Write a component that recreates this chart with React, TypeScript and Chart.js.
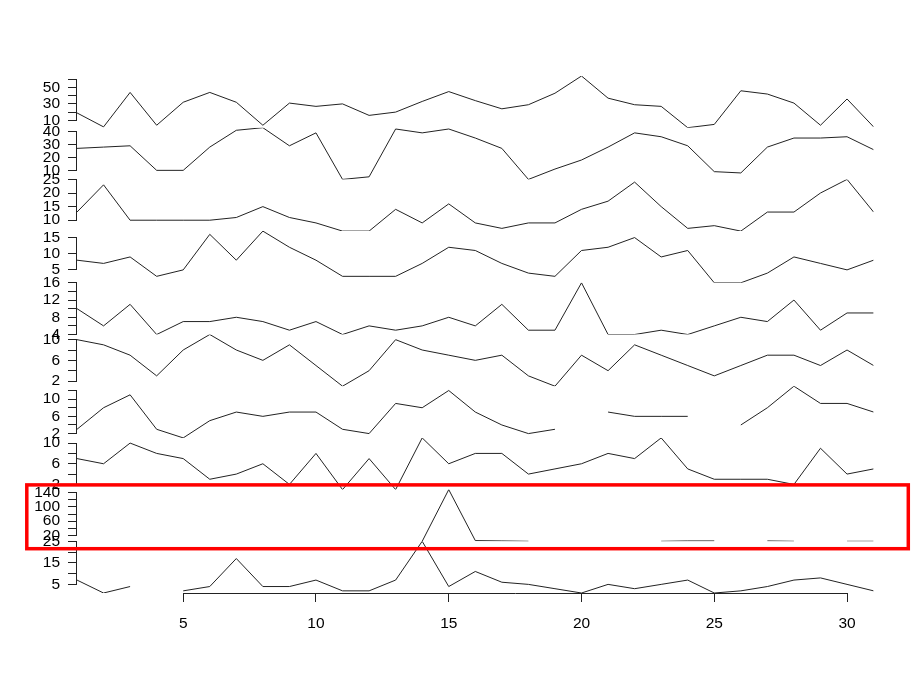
import React, { useEffect, useRef } from "react";
import { Chart, registerables } from "chart.js";

Chart.register(...registerables);

const days = [1, 2, 3, 4, 5, 6, 7, 8, 9, 10, 11, 12, 13, 14, 15, 16, 17, 18, 19, 20, 21, 22, 23, 24, 25, 26, 27, 28, 29, 30, 31];

const s1 = [19, 2, 44, 4, 32, 44, 32, 4, 31, 27, 30, 16, 20, 33, 45, 34, 24, 29, 43, 64, 37, 29, 27, 1, 5, 46, 42, 31, 4, 36, 2];
const s2 = [27, 28, 29, 10, 10, 28, 41, 43, 29, 39, 3, 5, 42, 39, 42, 35, 27, 3, 11, 18, 28, 39, 36, 29, 9, 8, 28, 35, 35, 36, 26];
const s3 = [13, 23, 10, 10, 10, 10, 11, 15, 11, 9, 6, 6, 14, 9, 16, 9, 7, 9, 9, 14, 17, 24, 15, 7, 8, 6, 13, 13, 20, 25, 13];
const s4 = [8, 7, 9, 3, 5, 16, 8, 17, 12, 8, 3, 3, 3, 7, 12, 11, 7, 4, 3, 11, 12, 15, 9, 11, 1, 1, 4, 9, 7, 5, 8];
const s5 = [10, 6, 11, 4, 7, 7, 8, 7, 5, 7, 4, 6, 5, 6, 8, 6, 11, 5, 5, 16, 4, 4, 5, 4, 6, 8, 7, 12, 5, 9, 9];
const s6 = [10, 9, 7, 3, 8, 11, 8, 6, 9, 5, 1, 4, 10, 8, 7, 6, 7, 3, 1, 7, 4, 9, 7, 5, 3, 5, 7, 7, 5, 8, 5];
const s7 = [3, 8, 11, 3, 1, 5, 7, 6, 7, 7, 3, 2, 9, 8, 12, 7, 4, 2, 3, null, 7, 6, 6, 6, null, 4, 8, 13, 9, 9, 7];
const s8 = [7, 6, 10, 8, 7, 3, 4, 6, 2, 8, 1, 7, 1, 11, 6, 8, 8, 4, 5, 6, 8, 7, 11, 5, 3, 3, 3, 2, 9, 4, 5];
const s9 = [null, null, null, null, null, null, null, null, null, null, null, null, null, 3, 149, 5, 4, 3, null, null, null, null, 3, 4, 4, null, 4, 3, null, 3, 3];
const s10 = [7, 1, 4, null, 2, 4, 17, 4, 4, 7, 2, 2, 7, 25, 4, 11, 6, 5, 3, 1, 5, 3, 5, 7, 1, 2, 4, 7, 8, 5, 2];

const ticks1 = [10, 20, 30, 40, 50, 60];
const labels1 = [10, 30, 50];
const ticks2 = [10, 20, 30, 40];
const labels2 = [10, 20, 30, 40];
const ticks3 = [10, 15, 20, 25];
const labels3 = [10, 15, 20, 25];
const ticks4 = [5, 10, 15];
const labels4 = [5, 10, 15];
const ticks5 = [4, 6, 8, 10, 12, 14, 16];
const labels5 = [4, 8, 12, 16];
const ticks6 = [2, 4, 6, 8, 10];
const labels6 = [2, 6, 10];
const ticks7 = [2, 4, 6, 8, 10, 12];
const labels7 = [2, 6, 10];
const ticks8 = [2, 4, 6, 8, 10];
const labels8 = [2, 6, 10];
const ticks9 = [20, 40, 60, 80, 100, 120, 140];
const labels9 = [20, 60, 100, 140];
const ticks10 = [5, 10, 15, 20, 25];
const labels10 = [5, 15, 25];

const xTicks = [5, 10, 15, 20, 25, 30];

const panels = [
  { values: s1, ticks: ticks1, labels: labels1 },
  { values: s2, ticks: ticks2, labels: labels2 },
  { values: s3, ticks: ticks3, labels: labels3 },
  { values: s4, ticks: ticks4, labels: labels4 },
  { values: s5, ticks: ticks5, labels: labels5 },
  { values: s6, ticks: ticks6, labels: labels6 },
  { values: s7, ticks: ticks7, labels: labels7 },
  { values: s8, ticks: ticks8, labels: labels8 },
  { values: s9, ticks: ticks9, labels: labels9 },
  { values: s10, ticks: ticks10, labels: labels10 },
];

const FONT = { family: "'Liberation Sans', Arial, Helvetica, sans-serif", size: 15.5 };
const LINE = "#222";

const axisLines = {
  id: "axisLines",
  afterDraw(chart: any) {
    const ctx = chart.ctx;
    ctx.save();
    ctx.strokeStyle = LINE;
    ctx.lineWidth = 1;
    panels.forEach((p, k) => {
      const sc = chart.scales["y" + k];
      const x = Math.round(sc.right) - 0.5;
      const yA = sc.getPixelForValue(p.ticks[0]);
      const yB = sc.getPixelForValue(p.ticks[p.ticks.length - 1]);
      ctx.beginPath();
      ctx.moveTo(x, Math.floor(yA) + 0.5);
      ctx.lineTo(x, Math.floor(yB) + 0.5);
      ctx.stroke();
    });
    const xs = chart.scales.x;
    const y = Math.round(xs.top) + 0.5;
    ctx.beginPath();
    ctx.moveTo(Math.floor(xs.getPixelForValue(xTicks[0])) + 0.5, y);
    ctx.lineTo(Math.floor(xs.getPixelForValue(xTicks[xTicks.length - 1])) + 0.5, y);
    ctx.stroke();
    // red highlight frame
    ctx.strokeStyle = "#ff0000";
    ctx.lineWidth = 3.5;
    ctx.strokeRect(26.8, 484.9, 881.5, 63.8);
    ctx.restore();
  },
};

export default function App() {
  const ref = useRef<HTMLCanvasElement | null>(null);

  useEffect(() => {
    if (!ref.current) return;
    const datasets = panels.map((p, k) => ({
      data: days.map((d, i) => ({ x: d, y: p.values[i] })),
      yAxisID: "y" + k,
      xAxisID: "x",
      borderColor: LINE,
      borderWidth: 1,
      pointRadius: 0,
      tension: 0,
      spanGaps: false,
      fill: false,
    }));
    const scales: any = {
      x: {
        type: "linear",
        position: "bottom",
        min: days[0],
        max: days[days.length - 1],
        afterBuildTicks: (s: any) => {
          s.ticks = xTicks.map((v) => ({ value: v }));
        },
        afterFit: (s: any) => {
          s.height = 97;
        },
        grid: { drawOnChartArea: false, drawTicks: true, tickLength: 9, color: LINE, tickColor: LINE },
        border: { display: false },
        ticks: { autoSkip: false, maxRotation: 0, padding: 12, color: "#000", font: FONT },
      },
    };
    panels.forEach((p, k) => {
      const vals = p.values.filter((v) => v !== null) as number[];
      scales["y" + k] = {
        type: "linear",
        position: "left",
        stack: "panels",
        stackWeight: 1,
        weight: 10 - k,
        min: Math.min(...vals),
        max: Math.max(...vals),
        afterBuildTicks: (s: any) => {
          s.ticks = p.ticks.map((v) => ({ value: v }));
        },
        afterFit: (s: any) => {
          s.width = 77;
        },
        grid: { drawOnChartArea: false, drawTicks: true, tickLength: 9, color: LINE, tickColor: LINE },
        border: { display: false },
        ticks: {
          autoSkip: false,
          padding: 8,
          color: "#000",
          font: FONT,
          callback: (v: any) => (p.labels.includes(v) ? String(v) : ""),
        },
      };
    });

    const chart = new Chart(ref.current, {
      type: "line",
      data: { datasets },
      options: {
        responsive: false,
        animation: false,
        devicePixelRatio: 1,
        layout: { padding: { left: 0, top: 76, right: 38.4, bottom: 0 } },
        plugins: { legend: { display: false }, tooltip: { enabled: false }, title: { display: false } },
        scales,
      },
      plugins: [axisLines],
    });
    return () => chart.destroy();
  }, []);

  return (
    <div style={{ position: "absolute", left: 0, top: 0, width: 912, height: 690, background: "#fff" }}>
      <canvas ref={ref} width={912} height={690} style={{ display: "block" }} />
    </div>
  );
}
